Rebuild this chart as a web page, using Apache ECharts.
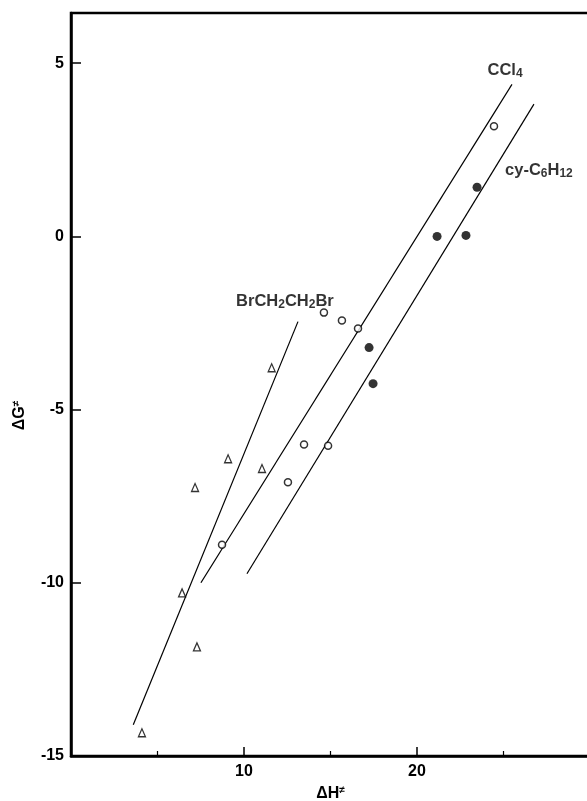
<!DOCTYPE html>
<html><head><meta charset="utf-8">
<script src="https://cdn.jsdelivr.net/npm/echarts@6/dist/echarts.min.js"></script>
<style>html,body{margin:0;padding:0;background:#fff}#c{width:587px;height:801px}</style>
</head><body><div id="c"></div>
<script>
// BrCH2CH2Br (open triangles)
const brX = [4.1, 6.42, 7.28, 7.17, 9.08, 11.04, 11.6];
const brY = [-14.33, -10.29, -11.85, -7.25, -6.42, -6.7, -3.79];
// CCl4 (open circles)
const cclX = [8.73, 12.54, 13.47, 14.86, 14.62, 15.66, 16.59, 24.45];
const cclY = [-8.9, -7.1, -6.01, -6.04, -2.2, -2.43, -2.66, 3.18];
// cy-C6H12 (filled circles)
const cyX = [17.23, 17.46, 21.16, 22.83, 23.47];
const cyY = [-3.21, -4.25, 0.0, 0.03, 1.42];
// fitted correlation lines (end points)
const brLineX = [3.6, 13.12];
const brLineY = [-14.1, -2.46];
const cclLineX = [7.51, 25.49];
const cclLineY = [-10.0, 4.39];
const cyLineX = [10.17, 26.76];
const cyLineY = [-9.74, 3.82];
// line labels (rich text: {n|...} normal, {b|...} subscript)
const labelText = ['{n|CCl}{b|4}', '{n|cy-C}{b|6}{n|H}{b|12}', '{n|BrCH}{b|2}{n|CH}{b|2}{n|Br}'];
const labelX = [25.09, 25.09, 9.54];
const labelY = [4.79, 1.9, -1.88];
const labelAlign = ['center', 'left', 'left'];
// tick labels
const xTickLabels = [10, 20];
const yTickLabels = [5, 0, -5, -10, -15];

const zip = (a, b) => a.map((v, i) => [v, b[i]]);
const FONT = 'Liberation Sans';
const labelRich = {
  n: {fontFamily: FONT, fontSize: 16.5, fontWeight: 'bold', color: '#000'},
  b: {fontFamily: FONT, fontSize: 12, fontWeight: 'bold', color: '#000', padding: [7, 0, 0, 0]}
};

const chart = echarts.init(document.getElementById('c'), null, {renderer: 'canvas'});
chart.setOption({
  animation: false,
  backgroundColor: '#fff',
  grid: {left: 71, right: -3, top: 13, bottom: 45, show: true, borderColor: '#000', borderWidth: 2.5, backgroundColor: 'transparent', outerBoundsMode: 'none'},
  xAxis: {
    type: 'value', min: 0, max: 30, interval: 10,
    name: '{a|ΔH}{s|≠}', nameLocation: 'middle', nameGap: 27,
    nameTextStyle: {rich: {a: {fontFamily: FONT, fontSize: 16, fontWeight: 'bold', color: '#000'}, s: {fontFamily: FONT, fontSize: 10, fontWeight: 'bold', color: '#000', padding: [0, 0, 8, 0]}}},
    axisLine: {show: true, onZero: false, lineStyle: {color: '#000', width: 2.5}},
    axisTick: {show: true, inside: true, length: 9, lineStyle: {color: '#000', width: 1.5}},
    minorTick: {show: true, splitNumber: 2, length: 5, lineStyle: {color: '#000', width: 1.2}},
    axisLabel: {margin: 8, color: '#000', fontFamily: FONT, fontSize: 16, fontWeight: 'bold',
      formatter: v => xTickLabels.includes(v) ? String(v) : ''},
    splitLine: {show: false}
  },
  yAxis: {
    type: 'value', min: -15, max: 6.45, interval: 5,
    name: '{a|ΔG}{s|≠}', nameLocation: 'middle', nameGap: 42, nameRotate: 90,
    nameTextStyle: {padding: [0, 62, 0, 0], rich: {a: {fontFamily: FONT, fontSize: 16, fontWeight: 'bold', color: '#000'}, s: {fontFamily: FONT, fontSize: 10, fontWeight: 'bold', color: '#000', padding: [0, 0, 8, 0]}}},
    axisLine: {show: true, onZero: false, lineStyle: {color: '#000', width: 2.5}},
    axisTick: {show: true, inside: true, length: 10, lineStyle: {color: '#000', width: 1.5}},
    axisLabel: {margin: 7, color: '#000', fontFamily: FONT, fontSize: 16, fontWeight: 'bold',
      formatter: v => yTickLabels.includes(v) ? String(v) : ''},
    splitLine: {show: false}
  },
  series: [
    {type: 'line', data: zip(brLineX, brLineY), symbol: 'none', lineStyle: {color: '#000', width: 1.2}, z: 2},
    {type: 'line', data: zip(cclLineX, cclLineY), symbol: 'none', lineStyle: {color: '#000', width: 1.2}, z: 2},
    {type: 'line', data: zip(cyLineX, cyLineY), symbol: 'none', lineStyle: {color: '#000', width: 1.2}, z: 2},
    {type: 'scatter', name: 'BrCH₂CH₂Br', data: zip(brX, brY), symbol: 'triangle', symbolSize: [7, 8],
      itemStyle: {color: '#fff', borderColor: '#000', borderWidth: 1.3}, z: 3},
    {type: 'scatter', name: 'CCl₄', data: zip(cclX, cclY), symbol: 'circle', symbolSize: 7,
      itemStyle: {color: '#fff', borderColor: '#000', borderWidth: 1.5}, z: 3},
    {type: 'scatter', name: 'cy-C₆H₁₂', data: zip(cyX, cyY), symbol: 'circle', symbolSize: 9,
      itemStyle: {color: '#000', borderColor: '#000', borderWidth: 0}, z: 3},
    {type: 'scatter', silent: true, symbolSize: 0, z: 4,
      data: labelText.map((t, i) => ({value: [labelX[i], labelY[i]],
        label: {show: true, position: [0, 0], formatter: t, align: labelAlign[i], verticalAlign: 'middle',
          rich: labelRich}}))}
  ]
});
</script></body></html>
